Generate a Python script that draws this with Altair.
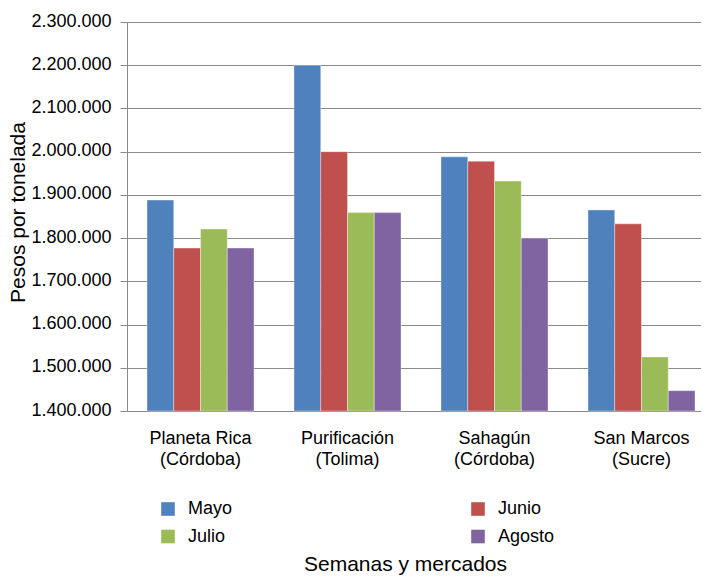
import altair as alt
import pandas as pd

categories = ["Planeta Rica (Córdoba)", "Purificación (Tolima)", "Sahagún (Córdoba)", "San Marcos (Sucre)"]
months = ["Mayo", "Junio", "Julio", "Agosto"]
mayo = [1888000, 2200000, 1988000, 1865000]
junio = [1777000, 2000000, 1978000, 1833000]
julio = [1821000, 1859000, 1932000, 1525000]
agosto = [1777000, 1859000, 1800000, 1447000]
colors = ["#4F81BD", "#C0504D", "#9BBB59", "#8064A2"]
legend_order = ["Mayo", "Julio", "Junio", "Agosto"]
y_ticks = [1400000, 1500000, 1600000, 1700000, 1800000, 1900000, 2000000, 2100000, 2200000, 2300000]

series = {"Mayo": mayo, "Junio": junio, "Julio": julio, "Agosto": agosto}
rows = []
for m in months:
    for c, v in zip(categories, series[m]):
        rows.append({"Mercado": c, "Mes": m, "Valor": v})
df = pd.DataFrame(rows)

FONT = "Liberation Sans"
GRID = "#8a8a8a"

x_label_expr = ("[slice(datum.value, 0, indexof(datum.value, ' (')), "
                "slice(datum.value, indexof(datum.value, ' (') + 1)]")
y_label_expr = "replace(format(datum.value, ',.0f'), regexp(',', 'g'), '.')"

bars = alt.Chart(df).mark_bar(stroke="white", strokeWidth=0.6, strokeOpacity=0.6).encode(
    x=alt.X(
        "Mercado:N",
        sort=categories,
        scale=alt.Scale(range=[0, 588], paddingInner=0.272, paddingOuter=0.136),
        axis=alt.Axis(
            labelExpr=x_label_expr,
            labelAngle=0,
            labelFont=FONT,
            labelFontSize=18,
            labelColor="black",
            labelLineHeight=21,
            labelBaseline="top",
            labelPadding=18,
            ticks=False,
            tickSize=0,
            domain=True,
            domainColor=GRID,
            title="Semanas y mercados",
            titleFont=FONT,
            titleFontSize=21,
            titleFontWeight="normal",
            titleColor="black",
            titleX=278,
            titleY=159,
            titleAlign="center",
            titleBaseline="alphabetic",
        ),
    ),
    xOffset=alt.XOffset("Mes:N", sort=months, scale=alt.Scale(paddingInner=0, paddingOuter=0)),
    y=alt.Y(
        "Valor:Q",
        scale=alt.Scale(domain=[1400000, 2300000], zero=False, nice=False),
        axis=alt.Axis(
            values=y_ticks,
            labelExpr=y_label_expr,
            labelFont=FONT,
            labelFontSize=18,
            labelColor="black",
            labelPadding=9,
            labelOffset=-1,
            tickSize=7,
            tickColor=GRID,
            domainColor=GRID,
            grid=True,
            gridColor=GRID,
            gridWidth=1,
            title="Pesos por tonelada",
            titleFont=FONT,
            titleFontSize=21,
            titleFontWeight="normal",
            titleColor="black",
            titleAngle=-90,
            titleX=-103,
            titleY=190,
            titleAlign="center",
            titleBaseline="alphabetic",
        ),
    ),
    y2=alt.datum(1400000),
    color=alt.Color(
        "Mes:N",
        sort=months,
        scale=alt.Scale(domain=months, range=colors),
        legend=alt.Legend(
            orient="none",
            legendX=32,
            legendY=478,
            columns=2,
            columnPadding=236,
            rowPadding=9.5,
            values=legend_order,
            symbolType="square",
            symbolSize=185,
            symbolStrokeWidth=0,
            labelFont=FONT,
            labelFontSize=18,
            labelColor="black",
            labelOffset=11,
            title=None,
            padding=0,
        ),
    ),
)

chart = bars.properties(
    width=574,
    height=389,
    autosize=alt.AutoSizeParams(type="none"),
    padding={"left": 119, "top": 14, "right": 0, "bottom": 165},
).configure_view(stroke=None).configure(font=FONT)

chart.save("out.html", embed_options={"renderer": "svg", "actions": False})
